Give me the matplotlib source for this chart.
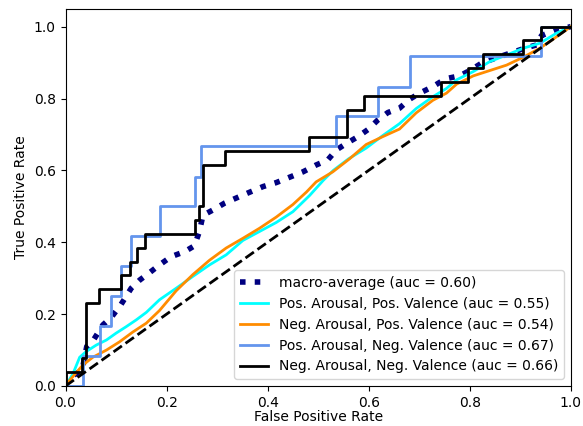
import matplotlib
matplotlib.use("Agg")
import matplotlib.pyplot as plt

# ROC curves for the four arousal/valence classes plus their macro-average
macro_fpr = [0.0, 0.005, 0.033, 0.042, 0.054, 0.074, 0.09, 0.109, 0.13, 0.147, 0.166,
             0.186, 0.209, 0.236, 0.255, 0.265, 0.272, 0.292, 0.315, 0.341, 0.364,
             0.391, 0.417, 0.47, 0.496, 0.519, 0.536, 0.556, 0.579, 0.599, 0.618,
             0.638, 0.661, 0.681, 0.701, 0.727, 0.752, 0.78, 0.803, 0.823, 0.85,
             0.909, 0.932, 0.942, 0.968, 1.0]
macro_tpr = [0.0, 0.02, 0.045, 0.11, 0.125, 0.17, 0.19, 0.225, 0.272, 0.295, 0.315,
             0.337, 0.36, 0.374, 0.39, 0.43, 0.475, 0.49, 0.509, 0.525, 0.539,
             0.555, 0.566, 0.596, 0.615, 0.629, 0.657, 0.675, 0.694, 0.714, 0.74,
             0.761, 0.773, 0.798, 0.815, 0.833, 0.855, 0.863, 0.88, 0.898, 0.912,
             0.94, 0.949, 0.975, 0.99, 1.0]

pa_pv_fpr = [0.0, 0.015, 0.028, 0.041, 0.061, 0.081, 0.1, 0.12, 0.14, 0.16, 0.186,
             0.219, 0.252, 0.285, 0.318, 0.351, 0.384, 0.417, 0.45, 0.483, 0.51,
             0.53, 0.56, 0.595, 0.628, 0.661, 0.694, 0.727, 0.754, 0.774, 0.807,
             0.84, 0.873, 0.906, 0.939, 0.972, 1.0]
pa_pv_tpr = [0.0, 0.035, 0.08, 0.096, 0.114, 0.128, 0.147, 0.165, 0.184, 0.205, 0.24,
             0.272, 0.305, 0.337, 0.365, 0.405, 0.43, 0.455, 0.485, 0.53, 0.572,
             0.6, 0.632, 0.662, 0.697, 0.73, 0.772, 0.805, 0.828, 0.852, 0.875,
             0.903, 0.921, 0.94, 0.954, 0.982, 1.0]

na_pv_fpr = [0.0, 0.009, 0.034, 0.054, 0.081, 0.107, 0.133, 0.16, 0.186, 0.219, 0.252,
             0.285, 0.318, 0.351, 0.384, 0.417, 0.45, 0.477, 0.496, 0.529, 0.562,
             0.595, 0.628, 0.661, 0.694, 0.727, 0.754, 0.774, 0.807, 0.84, 0.873,
             0.906, 0.939, 0.972, 1.0]
na_pv_tpr = [0.0, 0.017, 0.058, 0.08, 0.1, 0.123, 0.15, 0.175, 0.21, 0.265, 0.31,
             0.35, 0.384, 0.411, 0.439, 0.47, 0.505, 0.54, 0.568, 0.596, 0.632,
             0.672, 0.694, 0.715, 0.76, 0.795, 0.815, 0.84, 0.863, 0.878, 0.893,
             0.915, 0.94, 0.972, 1.0]

pa_nv_fpr = [0.0, 0.034, 0.034, 0.068, 0.068, 0.09, 0.09, 0.109, 0.109, 0.13, 0.13,
             0.186, 0.186, 0.257, 0.257, 0.269, 0.269, 0.536, 0.536, 0.618, 0.618,
             0.682, 0.682, 0.942, 0.942, 1.0]
pa_nv_tpr = [0.0, 0.0, 0.083, 0.083, 0.167, 0.167, 0.25, 0.25, 0.333, 0.333, 0.417,
             0.417, 0.5, 0.5, 0.583, 0.583, 0.667, 0.667, 0.75, 0.75, 0.833,
             0.833, 0.917, 0.917, 1.0, 1.0]

na_nv_fpr = [0.0, 0.0, 0.033, 0.033, 0.04, 0.04, 0.066, 0.066, 0.11, 0.11, 0.128,
             0.128, 0.141, 0.141, 0.158, 0.158, 0.257, 0.257, 0.265, 0.265, 0.272,
             0.272, 0.316, 0.316, 0.482, 0.482, 0.558, 0.558, 0.59, 0.59, 0.743,
             0.743, 0.797, 0.797, 0.826, 0.826, 0.906, 0.906, 0.942, 0.942, 1.0]
na_nv_tpr = [0.0, 0.038, 0.038, 0.077, 0.077, 0.231, 0.231, 0.269, 0.269, 0.308, 0.308,
             0.346, 0.346, 0.385, 0.385, 0.423, 0.423, 0.462, 0.462, 0.5, 0.5,
             0.615, 0.615, 0.654, 0.654, 0.692, 0.692, 0.769, 0.769, 0.808, 0.808,
             0.846, 0.846, 0.885, 0.885, 0.923, 0.923, 0.962, 0.962, 1.0, 1.0]

class_names = ["Pos. Arousal, Pos. Valence", "Neg. Arousal, Pos. Valence",
               "Pos. Arousal, Neg. Valence", "Neg. Arousal, Neg. Valence"]
class_auc = [0.55, 0.54, 0.67, 0.66]
macro_auc = 0.60
class_colors = ["aqua", "darkorange", "cornflowerblue", "black"]

fig = plt.figure(figsize=(5.83, 4.26), dpi=100)
ax = fig.add_axes([0.1124, 0.0939, 0.8666, 0.8857])

ax.plot(macro_fpr, macro_tpr, color="navy", linestyle=":", linewidth=4,
        label="macro-average (auc = {:.2f})".format(macro_auc))

curves = [(pa_pv_fpr, pa_pv_tpr), (na_pv_fpr, na_pv_tpr),
          (pa_nv_fpr, pa_nv_tpr), (na_nv_fpr, na_nv_tpr)]
for (fpr, tpr), name, auc, col in zip(curves, class_names, class_auc, class_colors):
    ax.plot(fpr, tpr, color=col, linewidth=2,
            label="{} (auc = {:.2f})".format(name, auc))

ax.plot([0, 1], [0, 1], "k--", linewidth=2)
ax.set_xlim([0.0, 1.0])
ax.set_ylim([0.0, 1.05])
ax.set_xlabel("False Positive Rate", labelpad=0)
ax.set_ylabel("True Positive Rate")
ax.legend(loc="lower right")

fig.savefig("out.png", dpi=100)
